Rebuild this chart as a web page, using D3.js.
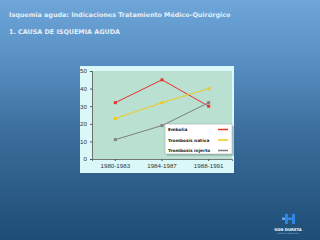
<!DOCTYPE html>
<html><head><meta charset="utf-8">
<script src="https://cdn.jsdelivr.net/npm/d3@7"></script>
<style>html,body{margin:0;padding:0;overflow:hidden}svg{display:block}</style>
</head><body>
<script>
const categories = ["1980-1983", "1984-1987", "1988-1991"];
const seriesNames = ["Embolia", "Trombosis nativa", "Trombosis injerto"];
const embolia = [32, 45, 30];
const trombosisNativa = [23, 32, 40];
const trombosisInjerto = [11, 19, 32];
const yTicks = [0, 10, 20, 30, 40, 50];
const colors = ["#e8322c", "#f2c81e", "#7f7f7f"];
const seriesValues = [embolia, trombosisNativa, trombosisInjerto];

(function () {
const W = 320, H = 240;
const svg = d3.select("body").append("svg").attr("width", W).attr("height", H);
const defs = svg.append("defs");
const g = defs.append("linearGradient").attr("id", "bg").attr("x1", 0).attr("y1", 0).attr("x2", 0).attr("y2", 1);
g.append("stop").attr("offset", "0%").attr("stop-color", "#6ea6d9");
g.append("stop").attr("offset", "25%").attr("stop-color", "#5890c4");
g.append("stop").attr("offset", "55%").attr("stop-color", "#3b6e9c");
g.append("stop").attr("offset", "100%").attr("stop-color", "#1e4d75");
svg.append("rect").attr("width", W).attr("height", H).attr("fill", "url(#bg)");

svg.append("text").attr("x", 9).attr("y", 17).attr("fill", "#e4eef6")
  .attr("font-family", "DejaVu Sans").attr("font-weight", "bold").attr("font-size", 6.4)
  .text("Isquemia aguda: Indicaciones Tratamiento Médico-Quirúrgico");
svg.append("text").attr("x", 9).attr("y", 34).attr("fill", "#e4eef6")
  .attr("font-family", "DejaVu Sans").attr("font-weight", "bold").attr("font-size", 6.4)
  .text("1. CAUSA DE ISQUEMIA AGUDA");

// chart panel
svg.append("rect").attr("x", 80).attr("y", 66).attr("width", 154).attr("height", 107).attr("fill", "#dbf8f8");
const pl = 92, pr = 232, pt = 71, pb = 159;
svg.append("rect").attr("x", pl).attr("y", pt).attr("width", pr - pl).attr("height", pb - pt).attr("fill", "#b9e0d1");

const x = d3.scaleBand().domain(categories).range([pl, pr]);
const y = d3.scaleLinear().domain([0, 50]).range([pb, pt]);

const yAxis = svg.append("g").attr("transform", `translate(${pl},0)`)
  .call(d3.axisLeft(y).tickValues(yTicks).tickSize(2).tickPadding(3));
const xAxis = svg.append("g").attr("transform", `translate(0,${pb})`)
  .call(d3.axisBottom(x).tickSize(2).tickPadding(3));
[yAxis, xAxis].forEach(a => {
  a.select(".domain").attr("stroke", "#555").attr("stroke-width", 0.8);
  a.selectAll(".tick line").attr("stroke", "#555");
  a.selectAll("text").attr("font-family", "Liberation Sans").attr("font-size", 6.2).attr("fill", "#333");
});

const line = d3.line().x((d, i) => x(categories[i]) + x.bandwidth() / 2).y(d => y(d));
seriesValues.forEach((vals, si) => {
  svg.append("path").datum(vals).attr("d", line).attr("fill", "none")
    .attr("stroke", colors[si]).attr("stroke-width", 1);
  svg.selectAll(null).data(vals).enter().append("rect")
    .attr("x", (d, i) => x(categories[i]) + x.bandwidth() / 2 - 1.5)
    .attr("y", d => y(d) - 1.5).attr("width", 3).attr("height", 3)
    .attr("fill", colors[si]);
});

// legend
const lg = svg.append("g");
lg.append("rect").attr("x", 167).attr("y", 126).attr("width", 67).attr("height", 30).attr("fill", "#8aa").attr("opacity", 0.6);
lg.append("rect").attr("x", 165).attr("y", 124).attr("width", 67).attr("height", 30).attr("fill", "#ffffff").attr("stroke", "#999").attr("stroke-width", 0.5);
seriesNames.forEach((n, i) => {
  const yy = 129.5 + i * 10.5;
  lg.append("text").attr("x", 168).attr("y", yy + 1.6).attr("font-family", "DejaVu Sans").attr("font-weight", "bold")
    .attr("font-size", 4.3).attr("fill", "#222").text(n);
  lg.append("line").attr("x1", 218).attr("x2", 228).attr("y1", yy).attr("y2", yy)
    .attr("stroke", colors[i]).attr("stroke-width", 1.5);
});

// logo
const logo = svg.append("g");
logo.append("rect").attr("x", 285).attr("y", 214).attr("width", 3).attr("height", 10).attr("fill", "#2f86e0");
logo.append("rect").attr("x", 292).attr("y", 214).attr("width", 3).attr("height", 10).attr("fill", "#2f86e0");
logo.append("rect").attr("x", 285).attr("y", 217.5).attr("width", 10).attr("height", 2.5).attr("fill", "#2f86e0");
logo.append("rect").attr("x", 282).attr("y", 217.5).attr("width", 3).attr("height", 2.5).attr("fill", "#5aa8f0");
logo.append("text").attr("x", 288).attr("y", 230.5).attr("text-anchor", "middle").attr("fill", "#ffffff")
  .attr("font-family", "DejaVu Sans").attr("font-weight", "bold").attr("font-size", 3.8).text("SON DURETA");
logo.append("text").attr("x", 288).attr("y", 234).attr("text-anchor", "middle").attr("fill", "#9cc0e0")
  .attr("font-family", "DejaVu Sans").attr("font-size", 1.8).text("HOSPITAL UNIVERSITARI");
})();
</script>
</body></html>
